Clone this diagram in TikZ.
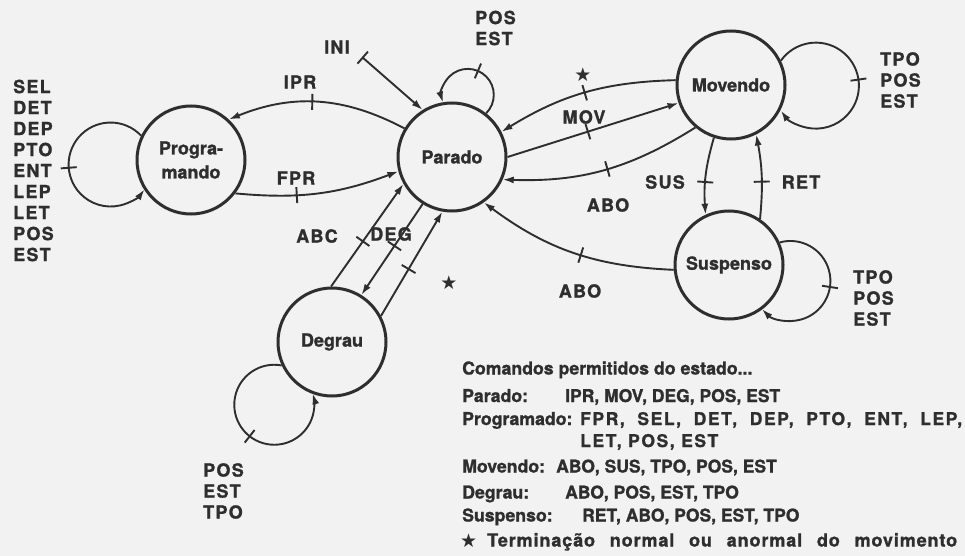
\documentclass[tikz,border=0pt]{standalone}
\usepackage{fontspec}
\setmainfont{TeX Gyre Heros}[BoldFeatures={FakeBold=1.2}]
\newfontfamily\capsf{TeX Gyre Heros}[LetterSpace=7,BoldFeatures={FakeBold=1.2}]
\newfontfamily\widef{TeX Gyre Heros}[LetterSpace=9,BoldFeatures={FakeBold=1.2}]
\newfontfamily\notef{TeX Gyre Heros}[LetterSpace=5,BoldFeatures={FakeBold=1.2}]
\newfontfamily\symf{DejaVu Sans}
\usetikzlibrary{arrows.meta,decorations.markings}
\definecolor{ink}{HTML}{2E2E2E}
\definecolor{paper}{HTML}{F2F2F2}

\begin{document}
\begin{tikzpicture}[x=1pt,y=1pt,
  st/.style={circle,draw=ink,line width=3pt,minimum size=108pt,inner sep=0pt,
    align=center,text=ink,font=\fontsize{18}{24}\selectfont\bfseries},
  cn/.style={draw=ink,line width=1.9pt,-{Latex[length=11pt,width=7pt]}},
  tk/.style={postaction={decorate,decoration={markings,
    mark=at position #1 with {\draw[arrows=-,draw=ink,line width=1.9pt] (0,-8pt) -- (0,8pt);}}}},
  lb/.style={inner sep=0pt,text=ink,font=\fontsize{18}{21}\selectfont\bfseries\capsf},
  stk/.style={lb,align=left,anchor=west},
  star/.style={inner sep=0pt,text=ink,font=\fontsize{19}{19}\selectfont\symf},
  txt/.style={inner sep=0pt,text=ink,anchor=base west,font=\fontsize{17.7}{21}\selectfont\bfseries},
  val/.style={txt,font=\fontsize{17.5}{21}\selectfont\bfseries},
  wide/.style={txt,font=\fontsize{17.5}{21}\selectfont\bfseries\widef},
]
% page
\fill[paper] (0,0) rectangle (965,-556);
\useasboundingbox (0,0) rectangle (965,-556);

% states
\node[st] (prog)   at (191,-160) {Progra-\\mando};
\node[st] (parado) at (452,-157) {Parado};
\node[st] (mov)    at (731,-85)  {Movendo};
\node[st] (susp)   at (729,-265) {Suspenso};
\node[st] (deg)    at (332,-342) {Degrau};

% start of the machine
\coordinate (ini) at (362,-57);
\draw[cn,{Bar[width=16pt]}-{Latex[length=11pt,width=7pt]}] (ini) -- (parado.122);
\node[lb] at (337,-47) {INI};

% Parado <-> Programando
\draw[cn,tk=0.53] (parado.149) to[bend right=25] (prog.47);
\draw[cn,tk=0.37] (prog.-37) to[bend right=13] (parado.195);
\node[lb] at (300,-82) {IPR};
\node[lb] at (296,-178) {FPR};

% self loops
\draw[cn,tk=0.503] (prog.154.5) arc[start angle=43.4,end angle=323.8,radius=42];
\node[stk] at (13,-170.5) {SEL\\DET\\DEP\\PTO\\ENT\\LEP\\LET\\POS\\EST};

\draw[cn,tk=0.463] (parado.52.1) arc[start angle=-45,end angle=197,radius=26];
\node[stk] at (475,-28) {POS\\EST};

\draw[cn,tk=0.472] (mov.26.1) arc[start angle=144.5,end angle=-144.5,radius=43];
\node[stk] at (880,-80) {TPO\\POS\\EST};

\draw[cn,tk=0.474] (susp.24) arc[start angle=105.5,end angle=-135.3,radius=40];
\node[stk] at (853,-298) {TPO\\POS\\EST};

\draw[cn,tk=0.514] (deg.205.5) arc[start angle=79.3,end angle=376.4,radius=40];
\node[stk] at (203,-491) {POS\\EST\\TPO};

% Parado <-> Movendo
\draw[cn,tk=0.5] (mov.175) to[bend right=15] (parado.27);
\node[star] at (583,-75) {★};
\draw[cn,tk=0.47] (parado.0) -- (mov.199);
\node[lb] at (584,-117) {MOV};
\draw[cn,tk=0.48] (mov.230) to[bend left=17] (parado.-24);
\node[lb] at (608,-205) {ABO};

% Movendo <-> Suspenso
\draw[cn,tk=0.58] (mov.252) to[bend right=10] (susp.115);
\node[lb] at (665,-182) {SUS};
\draw[cn,tk=0.44] (susp.56) to[bend right=8] (mov.297);
\node[lb] at (801,-182) {RET};

% Suspenso -> Parado
\draw[cn,tk=0.46] (susp.185) to[bend left=17] (parado.-55);
\node[lb] at (580,-291) {ABO};

% Degrau <-> Parado
\draw[cn,tk=0.44] (deg.91) -- (parado.209);
\node[lb] at (317,-236) {ABC};
\draw[cn,tk=0.46] (parado.238) -- (deg.58);
\node[lb] at (391,-234) {DEG};
\draw[cn,tk=0.45] (deg.28) -- (parado.260);
\node[star] at (449,-283) {★};

% legend
\node[txt] at (462,-374.5) {Comandos permitidos do estado...};
\node[txt] at (462,-402) {Parado:};
\node[val] at (565,-402) {IPR, MOV, DEG, POS, EST};
\node[txt] at (462,-425) {Programado:};
\node[wide] at (580,-425) {\makebox[382pt][s]{FPR, SEL, DET, DEP, PTO, ENT, LEP,}};
\node[wide] at (580,-447) {LET, POS, EST};
\node[txt] at (462,-472.5) {Movendo:};
\node[val] at (556,-472.5) {ABO, SUS, TPO, POS, EST};
\node[txt] at (462,-498.5) {Degrau:};
\node[val] at (565,-498.5) {ABO, POS, EST, TPO};
\node[txt] at (462,-521.5) {Suspenso:};
\node[val] at (582,-521.5) {RET, ABO, POS, EST, TPO};
\node[star,anchor=base west,font=\fontsize{19}{19}\selectfont\symf] at (460,-547) {★};
\node[txt,font=\fontsize{18}{21}\selectfont\bfseries\notef] at (487,-546.5) {\makebox[470pt][s]{Terminação normal ou anormal do movimento}};
\end{tikzpicture}
\end{document}
